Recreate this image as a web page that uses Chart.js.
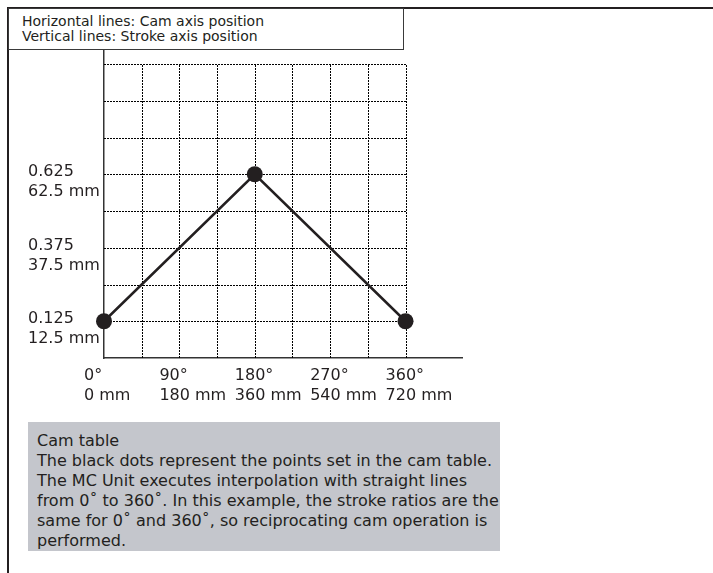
<!DOCTYPE html>
<html>
<head>
<meta charset="utf-8">
<script src="https://cdn.jsdelivr.net/npm/chart.js@4"></script>
<style>
    body { margin: 0; background: #fff; }
    #wrap { position: relative; width: 713px; height: 573px; overflow: hidden; }
    #myChart { position: absolute; left: 0; top: 0; }
    .rule { position: absolute; background: #231f20; }
    #header {
        position: absolute; left: 8px; top: 8px; width: 396px; height: 42px;
        box-sizing: border-box; border: 1px solid #3a3a3a; background: #fff;
        font: 14px/15px "DejaVu Sans", sans-serif; color: #231f20;
        padding: 5px 0 0 13px; white-space: nowrap;
    }
    #note {
        position: absolute; left: 28px; top: 422px; width: 472px; height: 129px;
        box-sizing: border-box; background: #c4c6cc;
        font: 16px/20px "DejaVu Sans", sans-serif; color: #231f20;
        padding: 9px 0 0 9px; white-space: nowrap;
    }
</style>
</head>
<body>
<div id="wrap">
    <canvas id="myChart" width="713" height="573"></canvas>
    <div class="rule" style="left:7px; top:7px; width:706px; height:2px;"></div>
    <div class="rule" style="left:7px; top:7px; width:2px; height:566px;"></div>
    <div id="header">Horizontal lines: Cam axis position<br>Vertical lines: Stroke axis position</div>
    <div id="note">Cam table<br>The black dots represent the points set in the cam table.<br>The MC Unit executes interpolation with straight lines<br>from 0˚ to 360˚. In this example, the stroke ratios are the<br>same for 0˚ and 360˚, so reciprocating cam operation is<br>performed.</div>
</div>
<script>
// Cam table points (cam axis angle -> stroke ratio)
const camAngles = [0, 180, 360];
const strokeRatios = [0.125, 0.625, 0.125];

// Tick labels
const xTickValues = [0, 90, 180, 270, 360];
const xTickLabels = [["0°", "0 mm"], ["90°", "180 mm"], ["180°", "360 mm"], ["270°", "540 mm"], ["360°", "720 mm"]];
const yTickValues = [0.125, 0.375, 0.625];
const yTickLabels = [["0.125", "12.5 mm"], ["0.375", "37.5 mm"], ["0.625", "62.5 mm"]];

// Dotted grid positions
const xGridValues = [45, 90, 135, 180, 225, 270, 315, 360];
const yGridValues = [0.125, 0.25, 0.375, 0.5, 0.625, 0.75, 0.875, 1.0];

const xMax = 428;
const yMax = 1.05;

const ink = "#231f20";
const tickFont = { family: "DejaVu Sans", size: 16, lineHeight: 1.25 };

// draws the dotted grid only inside 0..360 / 0..1
const dottedGrid = {
    id: "dottedGrid",
    beforeDatasetsDraw(chart) {
        const ctx = chart.ctx;
        const xs = chart.scales.x;
        const ys = chart.scales.y;
        const x0 = xs.getPixelForValue(0);
        const x1 = Math.round(xs.getPixelForValue(xGridValues[xGridValues.length - 1])) + 0.5;
        const y0 = ys.getPixelForValue(0);
        const y1 = Math.round(ys.getPixelForValue(yGridValues[yGridValues.length - 1])) + 0.5;
        ctx.save();
        ctx.strokeStyle = "#000";
        ctx.lineWidth = 1;
        ctx.setLineDash([2, 1]);
        xGridValues.forEach(v => {
            const px = Math.round(xs.getPixelForValue(v)) + 0.5;
            ctx.beginPath();
            ctx.moveTo(px, y0);
            ctx.lineTo(px, y1);
            ctx.stroke();
        });
        yGridValues.forEach(v => {
            const py = Math.round(ys.getPixelForValue(v)) + 0.5;
            ctx.beginPath();
            ctx.moveTo(x0, py);
            ctx.lineTo(x1, py);
            ctx.stroke();
        });
        ctx.restore();
    }
};

const ctx = document.getElementById("myChart").getContext("2d");
const myChart = new Chart(ctx, {
    type: "line",
    data: {
        datasets: [{
            data: camAngles.map((a, i) => ({ x: a, y: strokeRatios[i] })),
            borderColor: ink,
            borderWidth: 2.5,
            pointRadius: 8,
            pointBackgroundColor: ink,
            pointBorderWidth: 0,
            clip: false
        }]
    },
    options: {
        responsive: false,
        animation: false,
        events: [],
        layout: { padding: { left: 28, top: 49.3, right: 250.5, bottom: 155 } },
        plugins: { legend: { display: false }, tooltip: { enabled: false } },
        scales: {
            x: {
                type: "linear",
                min: 0,
                max: xMax,
                afterBuildTicks: s => { s.ticks = xTickValues.map(v => ({ value: v })); },
                afterFit: s => { s.height = 60; },
                grid: { display: false },
                border: { display: true, color: "#333", width: 1.5 },
                ticks: {
                    autoSkip: false,
                    maxRotation: 0,
                    align: "start",
                    labelOffset: -20,
                    padding: 0,
                    color: ink,
                    font: tickFont,
                    callback: v => xTickLabels[xTickValues.indexOf(v)]
                }
            },
            y: {
                type: "linear",
                min: 0,
                max: yMax,
                afterBuildTicks: s => { s.ticks = yTickValues.map(v => ({ value: v })); },
                afterFit: s => { s.width = 76; },
                grid: { display: false },
                border: { display: true, color: "#333", width: 1.5 },
                ticks: {
                    crossAlign: "far",
                    labelOffset: 8,
                    color: ink,
                    font: tickFont,
                    callback: v => yTickLabels[yTickValues.indexOf(v)]
                }
            }
        }
    },
    plugins: [dottedGrid]
});
</script>
</body>
</html>
